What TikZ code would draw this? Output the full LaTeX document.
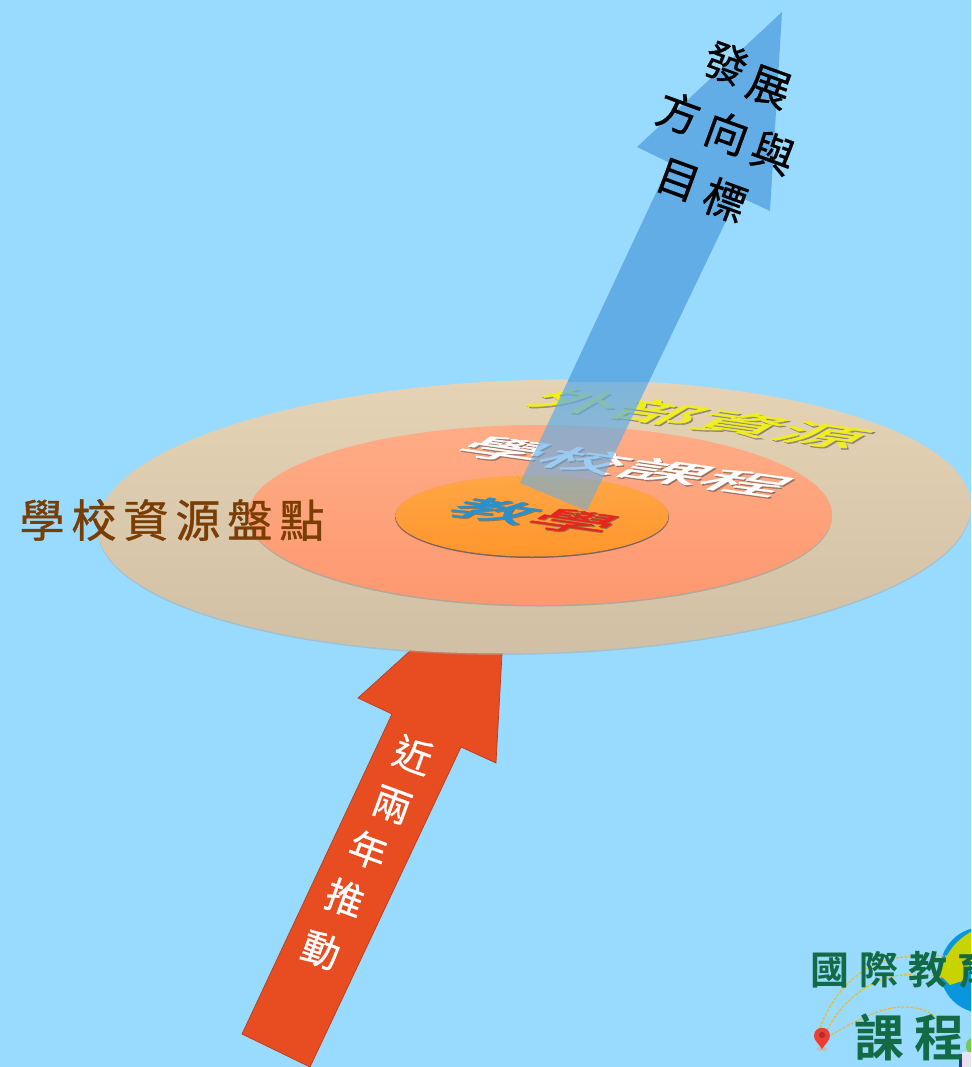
\documentclass[tikz,border=0pt]{standalone}
\usepackage{fontspec}
\usetikzlibrary{fadings}
\newfontfamily\cjk{Noto Sans CJK TC}
\newfontfamily\cjkm[FakeBold=0.7]{Noto Sans CJK TC}
\newfontfamily\cjkp[FakeBold=1.6]{Noto Sans CJK TC}
\newfontfamily\cjkwide[LetterSpace=15.5,FakeBold=0.9]{Noto Sans CJK TC}
\newfontfamily\logoafont[LetterSpace=26]{Noto Sans CJK TC Bold}
\newfontfamily\logobfont[LetterSpace=21]{Noto Sans CJK TC Bold}
\newcommand{\fsz}[1]{\fontsize{#1}{#1}\selectfont}
\definecolor{bgc}{HTML}{99DBFF}
\definecolor{armblue}{HTML}{62ADE6}
\definecolor{armred}{HTML}{E84D22}
\definecolor{armredd}{HTML}{B83C1C}
\definecolor{logogreen}{HTML}{136B45}
\definecolor{tanhi}{HTML}{E6D3B5}
\definecolor{tanlo}{HTML}{CFBFA4}
\definecolor{salhi}{HTML}{FFAC86}
\definecolor{sallo}{HTML}{FD9870}
\definecolor{orahi}{HTML}{FFA646}
\definecolor{oralo}{HTML}{FF962C}
\definecolor{yel}{HTML}{F0EE22}
\definecolor{teachblue}{HTML}{2891CD}
\definecolor{teachred}{HTML}{E4261E}
\definecolor{brownc}{HTML}{7A3E04}
\definecolor{routec}{HTML}{F2B820}
\definecolor{globeb}{HTML}{0896DE}
\definecolor{globel}{HTML}{C8D400}
\definecolor{pinr}{HTML}{EE3E32}
\definecolor{pind}{HTML}{BE2828}
\definecolor{leafc}{HTML}{78C850}
\definecolor{bookc}{HTML}{E8E2F0}
\definecolor{bookd}{HTML}{283C82}
\tikzfading[name=shaftfade, top color=transparent!22, bottom color=transparent!48]
\tikzset{
  x=1pt,y=-1pt,
  plane/.style={cm={0.913,-0.126,0.407,0.245,(0,0)},inner sep=0pt},
  shade1/.style={text=black!70,text opacity=0.45},
  upchar/.style={font=\cjkm\fsz{43},inner sep=0pt,rotate=-20,text=black},
  dnchar/.style={font=\cjkm\fsz{38},inner sep=0pt,rotate=-20,text=white},
  route/.style={draw=routec,line width=1.2pt,dash pattern=on 3pt off 1.5pt}
}
\begin{document}
\begin{tikzpicture}
\useasboundingbox (0,0) rectangle (971,1067);
\clip (0,0) rectangle (971,1067);
\fill[bgc] (0,0) rectangle (971,1067);

% red arrow (head hidden under the disc)
\filldraw[fill=armred,draw=armredd,line width=.7pt] (507,563) -- (496,763) -- (461,747) -- (310,1067) -- (242,1034) -- (392,714) -- (358,698) -- cycle;

% discs
\begin{scope}[rotate around={1.5:(534,516.5)}]
\fill[black!35,opacity=.5] (534,518) ellipse [x radius=437,y radius=136.5];
\shade[top color=tanhi,bottom color=tanlo] (534,516.5) ellipse [x radius=437,y radius=136.5];
\end{scope}
\fill[black!45,opacity=.5] (540,516.5) ellipse [x radius=292,y radius=90];
\shade[top color=salhi,bottom color=sallo] (540,515) ellipse [x radius=292,y radius=90];
\fill[black!70,opacity=.7] (532,517) ellipse [x radius=137,y radius=41];
\shade[top color=orahi,bottom color=oralo] (532,516) ellipse [x radius=136.5,y radius=40.5];

% texts lying on the discs
\node[plane,shade1,font=\cjkp\fsz{89}] at (701.5,419.5) {外部資源};
\node[plane,text=yel,font=\cjkp\fsz{89}] (outer) at (700,418) {外部資源};
\node[plane,shade1,font=\cjkp\fsz{88}] at (627.5,467.5) {學校課程};
\node[plane,text=white,font=\cjkp\fsz{88}] (school) at (626,466) {學校課程};
\node[plane,shade1,font=\cjkp\fsz{86}] at (536,517) {教學};
\node[plane,font=\cjkp\fsz{86}] (teach) at (535,516) {\textcolor{teachblue}{教}\textcolor{teachred}{學}};

% blue arrow
\fill[armblue] (782,12) -- (770,211) -- (738,196) -- (648.8,382) -- (567.4,382) -- (670,163) -- (637,147) -- cycle;
\fill[armblue,path fading=shaftfade] (648.8,382) -- (587,511) -- (520,483) -- (567.4,382) -- cycle;

% label on the disc edge
\node[inner sep=0pt,text=brownc,font=\cjkwide\fsz{45}] (inventory) at (172,520) {學校資源盤點};

% text in the blue arrow
\node[upchar] (u1) at (726,63) {發};
\node[upchar] (u2) at (769,87) {展};
\node[upchar] (u3) at (679,113) {方};
\node[upchar] (u4) at (727,133) {向};
\node[upchar] (u5) at (773,153) {與};
\node[upchar] (u6) at (678,180) {目};
\node[upchar] (u7) at (725,200) {標};

% text in the red arrow
\node[dnchar] (d1) at (413,755) {近};
\node[dnchar] (d2) at (392,805) {兩};
\node[dnchar] (d3) at (368,850) {年};
\node[dnchar] (d4) at (345,898) {推};
\node[dnchar] (d5) at (321,950) {動};

% logo
\fill[globeb] (983,970) circle (43);
\begin{scope}
\clip (983,970) circle (43);
\fill[globel] (940,975) .. controls (945,950) and (960,935) .. (985,925) -- (1000,925) -- (971,960) -- (965,980) -- (950,985) -- cycle;
\end{scope}
\draw[route] (820,1028) .. controls (832,995) and (860,960) .. (905,957) .. controls (925,955) and (945,955) .. (962,958);
\draw[route] (827,1030) .. controls (845,995) and (880,972) .. (915,975) .. controls (935,975) and (950,978) .. (962,981);
\draw[route] (831,1035) .. controls (860,1018) and (885,1006) .. (905,1007) .. controls (920,1007) and (932,1012) .. (938,1020);
\fill[black!25] (822,1049) ellipse [x radius=6,y radius=2];
\fill[pinr] (822,1049) .. controls (818,1043) and (814,1040) .. (814,1036) .. controls (814,1025) and (830,1025) .. (830,1036) .. controls (830,1040) and (826,1043) .. (822,1049) -- cycle;
\fill[pind] (822,1035) circle (3.2);
\fill[leafc] (968,1052) .. controls (964,1046) and (966,1040) .. (971,1038) -- (971,1052) -- cycle;
\fill[bookc] (962,1052) rectangle (971,1067);
\fill[bookd] (959,1054) rectangle (962,1067);
\node[anchor=west,inner sep=0pt,text=logogreen,font=\logoafont\fsz{39}] (logoa) at (810,970) {國際教育};
\node[anchor=west,inner sep=0pt,text=logogreen,font=\logobfont\fsz{50}] (logob) at (854,1037) {課程};
\end{tikzpicture}
\end{document}
